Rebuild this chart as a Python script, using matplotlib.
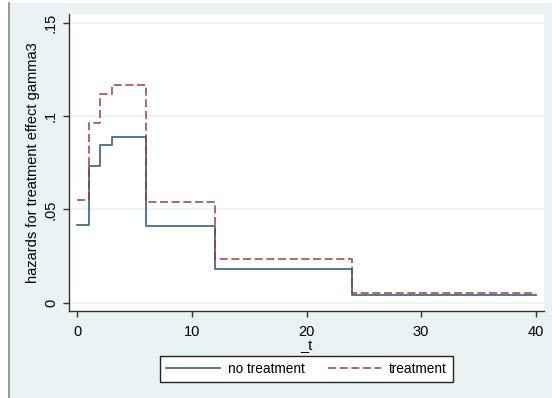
import matplotlib.pyplot as plt
from matplotlib.patches import Rectangle

plt.rcParams['font.family'] = ['Liberation Sans', 'DejaVu Sans']
plt.rcParams['lines.scale_dashes'] = False

# interval breakpoints (_t) and piecewise-constant hazards
t_breaks = [0, 1, 2, 3, 6, 12, 24, 40]
haz_notreat = [0.0418, 0.0732, 0.0846, 0.0888, 0.0413, 0.0182, 0.0041]
haz_treat = [0.0552, 0.0964, 0.1116, 0.1168, 0.0539, 0.0236, 0.0054]
yticks = [0, 0.05, 0.1, 0.15]
ytick_labels = ['0', '.05', '.1', '.15']
xticks = [0, 10, 20, 30, 40]

W, H = 552, 398
fig = plt.figure(figsize=(W / 100, H / 100), dpi=100)
fig.patch.set_facecolor('white')

bg = '#eaf2f3'
# graph region with left border line
fig.patches.append(Rectangle((8 / W, 0), 1 - 8 / W, 1 - 3 / H, transform=fig.transFigure,
                             facecolor=bg, edgecolor='none', zorder=-5))
fig.lines.append(plt.Line2D([8.5 / W, 8.5 / W], [0, 1 - 3 / H], transform=fig.transFigure,
                            color='#8a8a8a', lw=1.2, zorder=-4))

ax = fig.add_axes([69 / W, 1 - 311 / H, (544 - 69) / W, (311 - 14) / H])
ax.set_facecolor('white')

navy = '#1a476f'
maroon = '#90353b'
ax.step(t_breaks, haz_notreat + [haz_notreat[-1]], where='post', color=navy, lw=1.3,
        alpha=0.8, label='no treatment', zorder=3)
ax.step(t_breaks, haz_treat + [haz_treat[-1]], where='post', color=maroon, lw=1.3,
        alpha=0.8, linestyle=(0, (5.8, 2.6)), label='treatment', zorder=3)

ax.set_xlim(-0.74, 40.74)
ax.set_ylim(-0.00445, 0.1547)
ax.set_xticks(xticks)
ax.set_yticks(yticks)
ax.set_yticklabels(ytick_labels, rotation=90, va='center')
for y in yticks:
    ax.axhline(y, color=bg, lw=1.2, zorder=1)

for s in ['top', 'right']:
    ax.spines[s].set_visible(False)
for s in ['left', 'bottom']:
    ax.spines[s].set_color('#333333')
    ax.spines[s].set_linewidth(1.0)
ax.tick_params(axis='both', direction='out', length=4.5, width=1.0, color='#333333',
               labelsize=10.5, labelcolor='black')
ax.tick_params(axis='y', pad=3.5)
ax.tick_params(axis='x', pad=5.5)

ax.set_ylabel('hazards for treatment effect gamma3', fontsize=10.5, labelpad=3)
ax.set_xlabel('_t', fontsize=10.5, labelpad=0)

leg = fig.legend(loc='center', bbox_to_anchor=(306.5 / W, 1 - 369 / H), ncol=2,
                 frameon=True, fancybox=False, edgecolor='#222222', facecolor='white',
                 fontsize=9.8, handlelength=3.9, handletextpad=0.6, columnspacing=1.7,
                 borderpad=0.45, borderaxespad=0)
leg.get_frame().set_linewidth(1.0)
leg.get_frame().set_alpha(1)

fig.savefig('out.png', dpi=100)
